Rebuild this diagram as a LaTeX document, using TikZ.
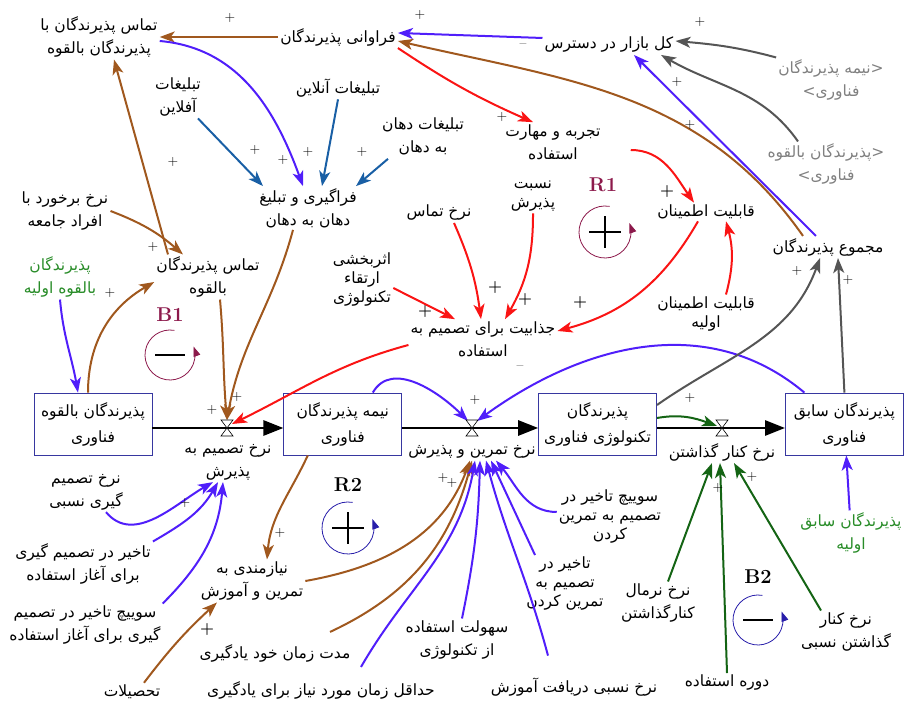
\documentclass[tikz,border=0pt]{standalone}
\usepackage{fontspec}
\newfontfamily\fafont[Script=Arabic]{DejaVu Sans}
\TeXXeTstate=1
\usetikzlibrary{positioning,arrows.meta}

\definecolor{cbrown}{RGB}{160,88,30}
\definecolor{cblue}{RGB}{80,30,250}
\definecolor{cred}{RGB}{250,20,20}
\definecolor{cdblue}{RGB}{25,95,165}
\definecolor{cgray}{RGB}{85,85,85}
\definecolor{cgreen}{RGB}{20,100,20}
\definecolor{cinit}{RGB}{40,140,40}
\definecolor{cshadow}{RGB}{128,128,128}
\definecolor{cmaroon}{RGB}{140,25,75}
\definecolor{cstock}{RGB}{55,55,160}
\definecolor{cnavy}{RGB}{40,30,170}

\newcommand{\rl}[1]{\beginR #1\endR}

\begin{document}
\begin{tikzpicture}[x=1pt,y=1pt,
    stock/.style={rectangle, draw=cstock, line width=0.8pt, fill=white,
        minimum width=118pt, minimum height=62pt, align=center,
        font=\fafont\fontsize{15.5}{26}\selectfont},
    var/.style={align=center, inner sep=2pt, font=\fafont\fontsize{15.5}{23}\selectfont},
    tight var/.style={var, font=\fafont\fontsize{15.5}{19}\selectfont},
    shadow var/.style={var, text=cshadow},
    init var/.style={var, text=cinit},
    link/.style={draw, line width=2pt, -{Stealth[length=15pt,width=11pt,inset=4pt]}},
    brown links/.style={every edge/.append style={link, draw=cbrown}},
    blue links/.style={every edge/.append style={link, draw=cblue}},
    red links/.style={every edge/.append style={link, draw=cred}},
    dblue links/.style={every edge/.append style={link, draw=cdblue}},
    gray links/.style={every edge/.append style={link, draw=cgray}},
    green links/.style={every edge/.append style={link, draw=cgreen}},
    flow/.style={line width=2.8pt, -{Triangle[length=20pt,width=15pt]}},
    valve/.style={draw=black, fill=white, line width=0.6pt},
    pol/.style={inner sep=0pt, text=black, font=\fontsize{14}{14}\selectfont},
    bold pol/.style={inner sep=0pt, font=\bfseries\fontsize{16}{16}\selectfont},
    loop arc/.style={line width=0.8pt, -{Triangle[length=10pt,width=7pt]}},
    loop name/.style={inner sep=0pt, font=\bfseries\fontsize{20}{20}\selectfont}
    ]

    \useasboundingbox (0,0) rectangle (904,711);

    % stocks and flows
    \node [stock] (pot) at (93,287) {\rl{پذیرندگان بالقوه}\\\rl{فناوری}};
    \node [stock] (semi) [right = 131pt of pot] {\rl{نیمه پذیرندگان}\\\rl{فناوری}};
    \node [stock] (adopt) [right = 136pt of semi] {\rl{پذیرندگان}\\\rl{تکنولوژی فناوری}};
    \node [stock] (former) [right = 128pt of adopt] {\rl{پذیرندگان سابق}\\\rl{فناوری}};

    \coordinate (v1) at (227,283);
    \coordinate (v2) at (472,283);
    \coordinate (v3) at (722,283);

    \draw [flow] ([yshift=-4pt]pot.east) -- ([yshift=-4pt]semi.west);
    \draw [flow] ([yshift=-4pt]semi.east) -- ([yshift=-4pt]adopt.west);
    \draw [flow] ([yshift=-4pt]adopt.east) -- ([yshift=-4pt]former.west);

    \node [var] (rdec) at (228,249) {\rl{نرخ تصمیم به}\\\rl{پذیرش}};
    \node [var] (rtrain) at (472,259) {\rl{نرخ تمرین و پذیرش}};
    \node [var] (rdisc) at (722,259) {\rl{نرخ کنار گذاشتن}};

    % variables
    \node [var] (contact) at (99,674) {\rl{تماس پذیرندگان با}\\\rl{پذیرندگان بالقوه}};
    \node [var] (freq) at (338,674) {\rl{فراوانی پذیرندگان}};
    \node [var] (market) at (609,666) {\rl{کل بازار در دسترس}};
    \node [shadow var] (shsemi) at (831,631) {\rl{<نیمه پذیرندگان}\\\rl{فناوری>}};
    \node [shadow var] (shpot) at (826,547) {\rl{<پذیرندگان بالقوه}\\\rl{فناوری>}};
    \node [var] (offline) at (178,614) {\rl{تبلیغات}\\\rl{آفلاین}};
    \node [var] (online) at (338,623) {\rl{تبلیغات آنلاین}};
    \node [var] (wom) at (423,575) {\rl{تبلیغات دهان}\\\rl{به دهان}};
    \node [var] (exp) at (553,569) {\rl{تجربه و مهارت}\\\rl{استفاده}};
    \node [var] (learn) at (308,503) {\rl{فراگیری و تبلیغ}\\\rl{دهان به دهان}};
    \node [var] (meet) at (65,500) {\rl{نرخ برخورد با}\\\rl{افراد جامعه}};
    \node [init var] (initpot) at (60,434) {\rl{پذیرندگان}\\\rl{بالقوه اولیه}};
    \node [var] (potcontact) at (208,434) {\rl{تماس پذیرندگان}\\\rl{بالقوه}};
    \node [var] (ctrate) at (439,498) {\rl{نرخ تماس}};
    \node [tight var] (accfrac) at (533,515) {\rl{نسبت}\\\rl{پذیرش}};
    \node [var] (rel) at (706,499) {\rl{قابلیت اطمینان}};
    \node [var] (total) at (828,464) {\rl{مجموع پذیرندگان}};
    \node [tight var] (tech) at (362,431) {\rl{اثربخشی}\\\rl{ارتقاء}\\\rl{تکنولوژی}};
    \node [var] (attr) at (483,372) {\rl{جذابیت برای تصمیم به}\\\rl{استفاده}};
    \node [tight var] (initrel) at (706,397) {\rl{قابلیت اطمینان}\\\rl{اولیه}};
    \node [var] (relrate) at (86,219) {\rl{نرخ تصمیم}\\\rl{گیری نسبی}};
    \node [var] (need) at (252,130) {\rl{نیازمندی به}\\\rl{تمرین و آموزش}};
    \node [tight var] (swtrain) at (610,194) {\rl{سوییچ تاخیر در}\\\rl{تصمیم به تمرین}\\\rl{کردن}};
    \node [tight var] (delaytrain) at (565,127) {\rl{تاخیر در}\\\rl{تصمیم به}\\\rl{تمرین کردن}};
    \node [var] (delaydec) at (83,147) {\rl{تاخیر در تصمیم گیری}\\\rl{برای آغاز استفاده}};
    \node [var] (swdec) at (85,86) {\rl{سوییچ تاخیر در تصمیم}\\\rl{گیری برای آغاز استفاده}};
    \node [var] (selfl) at (275,58) {\rl{مدت زمان خود یادگیری}};
    \node [var] (edu) at (132,19) {\rl{تحصیلات}};
    \node [var] (minl) at (321,21) {\rl{حداقل زمان مورد نیاز برای یادگیری}};
    \node [var] (ease) at (457,71) {\rl{سهولت استفاده}\\\rl{از تکنولوژی}};
    \node [var] (reltr) at (574,24) {\rl{نرخ نسبی دریافت آموزش}};
    \node [var] (normdisc) at (658,108) {\rl{نرخ نرمال}\\\rl{کنارگذاشتن}};
    \node [var] (period) at (727,28) {\rl{دوره استفاده}};
    \node [var] (reldisc) at (846,79) {\rl{نرخ کنار}\\\rl{گذاشتن نسبی}};
    \node [init var] (initformer) at (851,178) {\rl{پذیرندگان سابق}\\\rl{اولیه}};

    % links
    \path [brown links]
    (freq) edge (contact)
    ([xshift=-25pt]total.north) edge [out=125, in=-13] ([yshift=-4pt]freq.east)
    ([xshift=-40pt]potcontact.north) edge ([xshift=15pt]contact.south)
    (meet.east) edge [bend left=10] ([xshift=-25pt]potcontact.north)
    ([xshift=-5pt]pot.north) edge [out=90, in=210] ([yshift=-5pt]potcontact.west)
    ([xshift=12pt]potcontact.south) edge [out=-85, in=95] ([yshift=8pt]v1)
    ([xshift=-15pt]learn.south) edge [out=-105, in=80] ([yshift=8pt]v1)
    ([xshift=-35pt]semi.south) edge [out=-115, in=85] ([xshift=15pt]need.north)
    (need.east) edge [out=10, in=-110] ([xshift=-2pt]rtrain.south)
    ([shift={(55pt,10pt)}]selfl.north) edge [out=25, in=-105] (rtrain.south)
    ([xshift=12pt]edu.north) edge [bend left=5] ([xshift=-35pt]need.south)
    ;

    \path [blue links]
    ([yshift=-4pt]contact.east) edge [out=-5, in=110] ([xshift=-5pt]learn.north)
    ([yshift=7pt]market.west) edge ([yshift=4pt]freq.east)
    ([xshift=-12pt]total.north) edge ([xshift=25pt]market.south)
    (initpot.south) edge [out=-85, in=100] ([xshift=-15pt]pot.north)
    ([xshift=30pt]semi.north) edge [out=60, in=135] ([shift={(-4pt,7pt)}]v2)
    ([xshift=-40pt]former.north) edge [out=140, in=36] ([shift={(5pt,7pt)}]v2)
    ([shift={(40pt,12pt)}]minl.north) edge [out=60, in=-100] ([xshift=3pt]rtrain.south)
    ([xshift=5pt]ease.north) edge [bend right=5] ([xshift=8pt]rtrain.south)
    ([shift={(-26pt,20pt)}]reltr.north) edge [out=105, in=-75] ([xshift=14pt]rtrain.south)
    ([xshift=-30pt]delaytrain.north) edge [out=115, in=-65] ([xshift=19pt]rtrain.south)
    ([yshift=5pt]swtrain.west) edge [out=180, in=-50] ([xshift=24pt]rtrain.south)
    ([xshift=20pt]relrate.south) edge [out=-50, in=210] ([xshift=-15pt]rdec.south)
    (delaydec.north east) edge [out=30, in=-120] ([xshift=-10pt]rdec.south)
    (swdec.north east) edge [out=45, in=-95] ([xshift=-5pt]rdec.south)
    (initformer) edge (former)
    ;

    \path [red links]
    (freq.south east) edge [bend right=5] ([xshift=-20pt]exp.north)
    ([shift={(28pt,-8pt)}]exp.east) edge [out=0, in=125] ([xshift=-12pt]rel.north)
    ([xshift=-8pt]rel.south) edge [out=-120, in=15] ([yshift=8pt]attr.east)
    ([xshift=20pt]initrel.north) edge [out=75, in=-75] ([xshift=20pt]rel.south)
    ([xshift=15pt]ctrate.south) edge [bend left=8] ([xshift=-2pt]attr.north)
    (accfrac.south) edge [bend left=15] ([xshift=22pt]attr.north)
    ([yshift=-8pt]tech.east) edge ([xshift=-28pt]attr.north)
    ([yshift=-6pt]attr.west) edge [out=195, in=26] ([shift={(5pt,4pt)}]v1)
    ;

    \path [dblue links]
    ([xshift=20pt]offline.south) edge ([xshift=-45pt]learn.north)
    (online.south) edge ([xshift=14pt]learn.north)
    ([shift={(-35pt,-2pt)}]wom.south) edge ([xshift=48pt]learn.north)
    ;

    \path [gray links]
    (shsemi.north west) edge [out=165, in=-5] ([yshift=4pt]market.east)
    ([xshift=-28pt]shpot.north) edge [out=125, in=-30] ([xshift=52pt]market.south)
    ([yshift=19pt]adopt.east) edge [out=35, in=-110] ([xshift=-8pt]total.south)
    (former.north) edge ([xshift=10pt]total.south)
    ;

    \path [green links]
    ([yshift=6pt]adopt.east) edge [out=10, in=160] ([shift={(-5pt,2pt)}]v3)
    ([xshift=10pt]normdisc.north) edge ([xshift=-10pt]rdisc.south)
    (period.north) edge ([xshift=-2pt]rdisc.south)
    ([xshift=-25pt]reldisc.north) edge ([xshift=12pt]rdisc.south)
    ;

    % valves
    \foreach \v in {v1,v2,v3}
        \draw [valve] (\v) ++(-6,8) -- ++(12,0) -- ++(-12,-16) -- ++(12,0) -- cycle;

    % polarities
    \foreach \px/\py [count=\i] in {230/693, 420/696, 700/689, 677/629, 690/586,
        173/549, 255/561, 283/551, 308/559, 362/559, 502/594, 153/464, 110/418,
        797/440, 848/431, 212/301, 237/314, 185/208, 280/178, 475/311, 443/233,
        452/228, 690/313, 718/223, 752/234}
        \node [pol] (pol\i) at (\px,\py) {+};
    \foreach \px/\py [count=\i] in {667/519, 495/423, 525/411, 580/408, 425/399, 207/81}
        \node [bold pol] (bpol\i) at (\px,\py) {+};
    \node [pol] (neg1) at (523,665) {\textendash};
    \node [pol] (neg2) at (520,343) {\textendash};

    % loops
    \coordinate (b1c) at (170,356);
    \coordinate (r1c) at (605,479);
    \coordinate (r2c) at (348,183);
    \coordinate (b2c) at (758,91);
    \node [loop name, text=cmaroon] (b1) at (170,396) {B1};
    \node [loop name, text=cmaroon] (r1) at (603,526) {R1};
    \node [loop name] (r2) at (348,226) {R2};
    \node [loop name] (b2) at (758,134) {B2};
    \draw [loop arc, draw=cmaroon] (b1c) ++(80:25) arc [start angle=80, end angle=380, radius=25];
    \draw [loop arc, draw=cmaroon] (r1c) ++(80:26) arc [start angle=80, end angle=380, radius=26];
    \draw [loop arc, draw=cnavy] (r2c) ++(80:26) arc [start angle=80, end angle=380, radius=26];
    \draw [loop arc, draw=cnavy] (b2c) ++(80:25) arc [start angle=80, end angle=380, radius=25];
    \draw [line width=1.2pt] (b1c) ++(-15,0) -- ++(30,0);
    \draw [line width=1.2pt] (b2c) ++(-15,0) -- ++(30,0);
    \draw [line width=1.2pt] (r1c) ++(-16,0) -- ++(32,0) (r1c) ++(0,-16) -- ++(0,32);
    \draw [line width=1.2pt] (r2c) ++(-16,0) -- ++(32,0) (r2c) ++(0,-16) -- ++(0,32);

\end{tikzpicture}
\end{document}
